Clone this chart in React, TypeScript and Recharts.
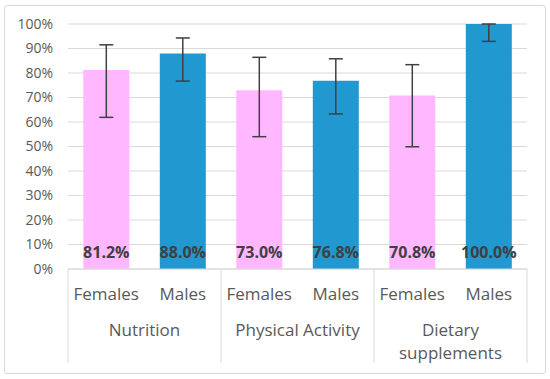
import React from "react";
import { BarChart, Bar, XAxis, YAxis, CartesianGrid, ErrorBar, Cell, LabelList } from "recharts";

const sexes = ["Females", "Males", "Females", "Males", "Females", "Males"];
const groups = ["Nutrition", "Nutrition", "Physical Activity", "Physical Activity", "Dietary supplements", "Dietary supplements"];
const values = [81.2, 88.0, 73.0, 76.8, 70.8, 100.0];
const errLow = [19.3, 11.3, 19.0, 13.5, 20.9, 7.1];
const errHigh = [10.3, 6.3, 13.4, 9.0, 12.6, 0];
const yTicks = [0, 10, 20, 30, 40, 50, 60, 70, 80, 90, 100];

const data = sexes.map((s, i) => ({
  key: `${groups[i]}-${s}`,
  sex: s,
  group: groups[i],
  value: values[i],
  err: [errLow[i], errHigh[i]],
}));

const PINK = "#FFB7FF";
const BLUE = "#2198CF";
const GRID = "#D9D9D9";
const TEXT = "#595959";
const FONT = "'Open Sans', sans-serif";

const groupLines: Record<string, string[]> = {
  "Nutrition": ["Nutrition"],
  "Physical Activity": ["Physical Activity"],
  "Dietary supplements": ["Dietary", "supplements"],
};

const XTick = (props: any) => {
  const { x, y, payload, index } = props;
  const half = payload && payload.offset ? payload.offset : 38.25;
  const d = data[index];
  const els: React.ReactNode[] = [];
  els.push(
    <text key="s" x={x} y={y + 31} textAnchor="middle" fill={TEXT} fontSize={17} fontFamily={FONT}>
      {d.sex}
    </text>
  );
  if (index % 2 === 0) {
    els.push(<line key="l" x1={x - half} x2={x - half} y1={y} y2={y + 94} stroke={GRID} strokeWidth={1} />);
    const lines = groupLines[d.group] || [d.group];
    lines.forEach((ln, k) => {
      els.push(
        <text key={"g" + k} x={x + half} y={y + 67 + k * 22.5} textAnchor="middle" fill={TEXT} fontSize={17} fontFamily={FONT}>
          {ln}
        </text>
      );
    });
  }
  if (index === data.length - 1) {
    els.push(<line key="r" x1={x + half} x2={x + half} y1={y} y2={y + 94} stroke={GRID} strokeWidth={1} />);
  }
  return <g>{els}</g>;
};

export default function App() {
  return (
    <div style={{ position: "absolute", left: 0, top: 0, width: 550, height: 379, background: "#fff" }}>
      <div
        style={{
          position: "absolute",
          left: 4,
          top: 5,
          width: 540,
          height: 367,
          border: "1px solid #D9D9D9",
          borderRadius: 3,
        }}
      />
      <div style={{ position: "absolute", left: 0, top: 0 }}>
        <BarChart
          width={550}
          height={379}
          data={data}
          margin={{ top: 24, right: 23, bottom: 0, left: 0 }}
          barCategoryGap="20%"
        >
          <CartesianGrid vertical={false} stroke={GRID} strokeWidth={1} />
          <YAxis
            type="number"
            domain={[0, 100]}
            ticks={yTicks}
            interval={0}
            width={68}
            axisLine={false}
            tickLine={false}
            tickSize={0}
            tickMargin={15}
            tickFormatter={(v: number) => `${v}%`}
            tick={{ fill: TEXT, fontSize: 14, fontFamily: FONT }}
          />
          <XAxis
            dataKey="key"
            height={110}
            interval={0}
            axisLine={{ stroke: GRID }}
            tickLine={false}
            tickSize={0}
            tickMargin={0}
            tick={<XTick />}
          />
          <Bar dataKey="value" isAnimationActive={false}>
            {data.map((d, i) => (
              <Cell key={i} fill={d.sex === "Females" ? PINK : BLUE} />
            ))}
            <ErrorBar dataKey="err" width={7} stroke="#404040" strokeWidth={1.5} direction="y" />
            <LabelList
              dataKey="value"
              position="insideBottom"
              offset={11}
              formatter={(v: any) => `${Number(v).toFixed(1)}%`}
              style={{ fill: "#404040", fontWeight: 700, fontSize: 16, fontFamily: FONT }}
            />
          </Bar>
        </BarChart>
      </div>
    </div>
  );
}
